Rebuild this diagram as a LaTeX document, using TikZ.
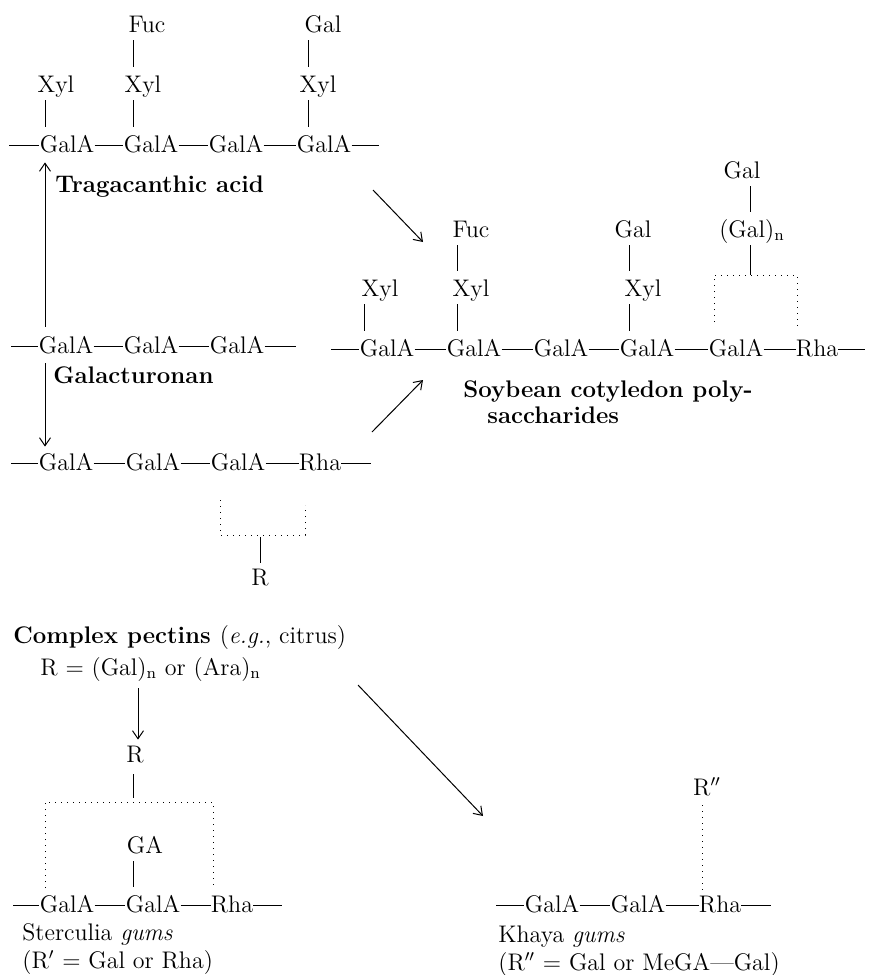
\documentclass[tikz,border=0pt]{standalone}
\usepackage{amsmath}
\usepackage{tikz}
\usetikzlibrary{arrows.meta}

\tikzset{
  res/.style={inner sep=0pt, text height=8.5pt, text depth=0pt, anchor=base},
  bond/.style={line width=0.6pt},
  link/.style={line width=0.5pt, shorten <=4pt, shorten >=4pt},
  hook/.style={line width=0.5pt, dash pattern=on 0.5pt off 2.5pt},
  conv/.style={line width=0.5pt, -{Straight Barb[length=4pt,width=5.5pt]}},
  title/.style={font=\fontsize{12}{14}\selectfont\bfseries, inner sep=0pt, anchor=base west},
  note/.style={inner sep=0pt, anchor=base west},
}

\begin{document}
\begin{tikzpicture}[x=0.5pt,y=-0.5pt,font=\fontsize{12}{14}\selectfont]
\useasboundingbox (0,0) rectangle (870,975);

% tragacanthic acid
\node[res] (tL) at (8,152) {};
\node[res] (t1) at (67,152) {GalA};
\node[res] (t2) at (151,152) {GalA};
\node[res] (t3) at (236,152) {GalA};
\node[res] (t4) at (324,152) {GalA};
\node[res] (tR) at (380,152) {};
\node[res] (tx1) at (56,92) {Xyl};
\node[res] (tx2) at (143,92) {Xyl};
\node[res] (tx3) at (318,92) {Xyl};
\node[res] (tf) at (147,32) {Fuc};
\node[res] (tg) at (323,32) {Gal};
\coordinate (tb1) at (45,0);
\coordinate (tb2) at (133,0);
\coordinate (tb3) at (308,0);
\node[title] (trag) at (55,192) {Tragacanthic acid};

\foreach \a/\b in {tL/t1,t1/t2,t2/t3,t3/t4,t4/tR}
  \draw[bond] ([yshift=3.2pt]\a.base east) -- ([yshift=3.2pt]\b.base west);
\draw[link] (tx1.south -| tb1) -- (t1.north -| tb1);
\draw[link] (tx2.south -| tb2) -- (t2.north -| tb2);
\draw[link] (tf.south -| tb2) -- (tx2.north -| tb2);
\draw[link] (tx3.south -| tb3) -- (t4.north -| tb3);
\draw[link] (tg.south -| tb3) -- (tx3.north -| tb3);

% galacturonan
\node[res] (gL) at (10,353) {};
\node[res] (g1) at (66,353) {GalA};
\node[res] (g2) at (151,353) {GalA};
\node[res] (g3) at (237,353) {GalA};
\node[res] (gR) at (297,353) {};
\node[title] (galac) at (53,383) {Galacturonan};

\foreach \a/\b in {gL/g1,g1/g2,g2/g3,g3/gR}
  \draw[bond] ([yshift=3.2pt]\a.base east) -- ([yshift=3.2pt]\b.base west);

% pectin backbone
\node[res] (pL) at (10,470) {};
\node[res] (p1) at (66,470) {GalA};
\node[res] (p2) at (153,470) {GalA};
\node[res] (p3) at (238,470) {GalA};
\node[res] (pr) at (320,470) {Rha};
\node[res] (pR) at (372,470) {};
\node[res] (prr) at (260,585) {R};
\coordinate (pbox) at (260,537);
\node[title] (cplx) at (13,643) {Complex pectins \mdseries(\textit{e.g.}, citrus)};
\node[note] (rdef) at (40,675) {R $=$ (Gal)$_{\mathrm{n}}$ or (Ara)$_{\mathrm{n}}$};

\foreach \a/\b in {pL/p1,p1/p2,p2/p3,p3/pr,pr/pR}
  \draw[bond] ([yshift=3.2pt]\a.base east) -- ([yshift=3.2pt]\b.base west);
\draw[hook] (220,500) -- (220,535) -- (305,535) -- (305,505);
\draw[link, shorten <=0pt, shorten >=2.5pt] (pbox) -- (prr.north);

% soybean cotyledon polysaccharides
\node[res] (sL) at (330,356) {};
\node[res] (s1) at (387,356) {GalA};
\node[res] (s2) at (474,356) {GalA};
\node[res] (s3) at (561,356) {GalA};
\node[res] (s4) at (647,356) {GalA};
\node[res] (s5) at (736,356) {GalA};
\node[res] (sr) at (817,356) {Rha};
\node[res] (sR) at (866,356) {};
\node[res] (sx1) at (380,296) {Xyl};
\node[res] (sx2) at (471,296) {Xyl};
\node[res] (sx3) at (643,296) {Xyl};
\node[res] (sf) at (471,237) {Fuc};
\node[res] (sg) at (633,237) {Gal};
\node[res] (sgn) at (752,237) {(Gal)$_{\mathrm{n}}$};
\node[res] (sgt) at (742,178) {Gal};
\coordinate (sb1) at (364,0);
\coordinate (sb2) at (457,0);
\coordinate (sb3) at (629,0);
\coordinate (sb4) at (750,0);
\coordinate (sbox) at (750,275);
\node[title] (soy1) at (463,397) {Soybean cotyledon poly-};
\node[title] (soy2) at (487,423) {saccharides};

\foreach \a/\b in {sL/s1,s1/s2,s2/s3,s3/s4,s4/s5,s5/sr,sr/sR}
  \draw[bond] ([yshift=3.2pt]\a.base east) -- ([yshift=3.2pt]\b.base west);
\draw[link] (sx1.south -| sb1) -- (s1.north -| sb1);
\draw[link] (sx2.south -| sb2) -- (s2.north -| sb2);
\draw[link] (sf.south -| sb2) -- (sx2.north -| sb2);
\draw[link] (sx3.south -| sb3) -- (s4.north -| sb3);
\draw[link] (sg.south -| sb3) -- (sx3.north -| sb3);
\draw[link] (sgt.south -| sb4) -- (sgn.north -| sb4);
\draw[link, shorten >=0pt] (sgn.south -| sb4) -- (sbox);
\draw[hook] (714,322) -- (714,275) -- (797,275) -- (797,330);

% sterculia gums
\node[res] (crr) at (135,762) {R};
\node[res] (cga) at (145,853) {GA};
\node[res] (cL) at (12,912) {};
\node[res] (c1) at (67,912) {GalA};
\node[res] (c2) at (153,912) {GalA};
\node[res] (cr) at (232,912) {Rha};
\node[res] (cR) at (283,912) {};
\coordinate (cb) at (133,0);
\coordinate (cbox) at (133,802);
\node[note] (sterc) at (22,940) {Sterculia \textit{gums}};
\node[note] (stdef) at (22,968) {(R$'$ $=$ Gal or Rha)};

\foreach \a/\b in {cL/c1,c1/c2,c2/cr,cr/cR}
  \draw[bond] ([yshift=3.2pt]\a.base east) -- ([yshift=3.2pt]\b.base west);
\draw[link, shorten <=6pt, shorten >=2pt] (crr.south -| cb) -- (cbox);
\draw[link] (cga.south -| cb) -- (c2.north -| cb);
\draw[hook] (45,888) -- (45,802) -- (213,802) -- (213,885);

% khaya gums
\node[res] (krr) at (707,795) {R$''$};
\node[res] (kL) at (495,912) {};
\node[res] (k1) at (552,912) {GalA};
\node[res] (k2) at (638,912) {GalA};
\node[res] (kr) at (720,912) {Rha};
\node[res] (kR) at (772,912) {};
\coordinate (kb) at (702,0);
\node[note] (khaya) at (498,942) {Khaya \textit{gums}};
\node[note] (khdef) at (498,970) {(R$''$ $=$ Gal or MeGA---Gal)};

\foreach \a/\b in {kL/k1,k1/k2,k2/kr,kr/kR}
  \draw[bond] ([yshift=3.2pt]\a.base east) -- ([yshift=3.2pt]\b.base west);
\draw[hook, shorten <=5pt, shorten >=2pt] (krr.south -| kb) -- (kr.north -| kb);

% conversions
\coordinate (ax) at (45,0);
\coordinate (a1) at (373,190);
\coordinate (a2) at (423,242);
\coordinate (a3) at (372,432);
\coordinate (a4) at (423,380);
\coordinate (a5) at (138,688);
\coordinate (a6) at (358,685);
\coordinate (a7) at (483,816);
\draw[conv, shorten <=4.5pt, shorten >=5pt] (g1.north -| ax) -- (t1.south -| ax);
\draw[conv, shorten <=5pt, shorten >=3pt] (g1.south -| ax) -- (p1.north -| ax);
\draw[conv] (a1) -- (a2);
\draw[conv] (a3) -- (a4);
\draw[conv, shorten >=2.5pt] (a5) -- (crr.north -| a5);
\draw[conv] (a6) -- (a7);
\end{tikzpicture}
\end{document}
